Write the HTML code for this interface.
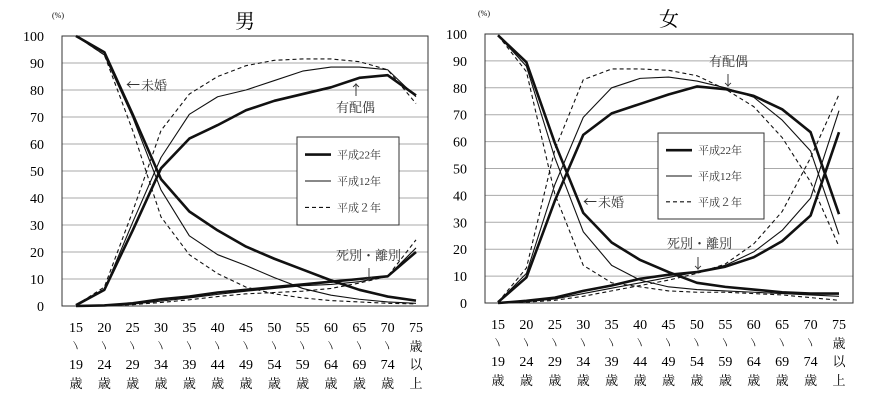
<!DOCTYPE html>
<html><head><meta charset="utf-8"><style>
body{margin:0;background:#fff}
svg{display:block;font-family:"Liberation Serif","Noto Serif CJK SC",serif}
.ar{font-family:"Noto Sans CJK JP",sans-serif}
</style></head><body>
<svg id="s" width="871" height="404" viewBox="0 0 871 404" xmlns="http://www.w3.org/2000/svg"></svg>
<script>
const NS="http://www.w3.org/2000/svg";const s=document.getElementById('s');
function el(t,a,txt){const e=document.createElementNS(NS,t);for(const k in a)e.setAttribute(k,a[k]);if(txt!==undefined)e.textContent=txt;s.appendChild(e);return e;}
const cats=['15','20','25','30','35','40','45','50','55','60','65','70','75'];
const lo=['19','24','29','34','39','44','49','54','59','64','69','74'];
function chart(c){
 const {L,R,T,B,x0,x1}=c;const Y=v=>B-(B-T)*v/100;const X=i=>x0+(x1-x0)*i/12;
 for(let v=10;v<=100;v+=10)el('line',{x1:L,x2:R,y1:Y(v),y2:Y(v),stroke:'#aaa','stroke-width':1});
 el('rect',{x:L,y:T,width:R-L,height:B-T,fill:'none',stroke:'#333','stroke-width':1});
 for(let v=0;v<=100;v+=10)el('text',{x:L-18,y:Y(v)+5,'text-anchor':'end','font-size':14},v);
 el('text',{x:c.px,y:T-18,'font-size':8},'(%)');
 el('text',{x:(L+R)/2,y:T-8,'font-size':20,'text-anchor':'middle'},c.title);
 for(let i=0;i<13;i++){const x=X(i);
  el('text',{x,y:B+26,'font-size':14,'text-anchor':'middle'},cats[i]);
  if(i<12){el('text',{x,y:B+43,'font-size':9,'text-anchor':'middle'},'〵');
   el('text',{x,y:B+63,'font-size':14,'text-anchor':'middle'},lo[i]);
   el('text',{x,y:B+82,'font-size':13,'text-anchor':'middle'},'歳');}
  else{el('text',{x,y:B+45,'font-size':13,'text-anchor':'middle'},'歳');
   el('text',{x,y:B+63,'font-size':13,'text-anchor':'middle'},'以');
   el('text',{x,y:B+82,'font-size':13,'text-anchor':'middle'},'上');}
 }
 const st=[{w:2.6,d:''},{w:1.1,d:''},{w:1.1,d:'4,3'}];
 c.data.forEach(grp=>grp.forEach((arr,k)=>{
  el('polyline',{points:arr.map((v,i)=>X(i)+','+Y(v)).join(' '),fill:'none',stroke:'#111','stroke-width':st[k].w,'stroke-dasharray':st[k].d,'stroke-linejoin':'round'});
 }));
 const g=c.leg;el('rect',{x:g[0],y:g[1],width:g[2],height:g[3],fill:'#fff',stroke:'#333'});
 ['平成22年','平成12年','平成２年'].forEach((t,k)=>{const yy=g[1]+g[3]*(0.2+0.3*k);
  el('line',{x1:g[0]+8,x2:g[0]+34,y1:yy,y2:yy,stroke:'#111','stroke-width':st[k].w,'stroke-dasharray':st[k].d});
  el('text',{x:g[0]+40,y:yy+4,'font-size':11,fill:'#333'},t);});
 c.notes.forEach(n=>el('text',{x:n[0],y:n[1],'font-size':n[3]||13,fill:'#333',class:n[3]?'ar':''},n[2]));
}
chart({L:62,R:428,T:36,B:306,x0:76,x1:416,title:'男',px:52,leg:[297,137,102,88],
 data:[[[100,94,71,47,35,28,22,17.5,13.5,9.5,6,3.5,2],[100,93,70,43,26,19,15,10.5,6.5,4,2.5,1.5,1],[100,93,65,33,19,12,7,4.5,3,2,1.5,1,0.8]],
 [[0.3,6,28,51,62,67,72.5,76,78.5,81,84.5,85.5,78],[0.3,6,31,55,71,77.5,80,83.5,87,88.5,88.5,87.5,77.5],[0.3,7,35,65,78.5,85,89,91,91.5,91.5,90.5,87.5,75]],
 [[0,0.2,1,2.5,3.5,5,6,7,8,9,10,11,20],[0,0.1,0.7,1.8,3,4.3,5.5,6.5,7.5,8,9,11,21.5],[0,0.1,0.5,1.3,2.3,3.5,4.5,5,5.5,6.5,8.5,11,24.5]]],
 notes:[[126,90,'←',14],[141,90,'未婚'],[349,95,'↑',14],[336,112,'有配偶'],[336,260,'死別・離別'],[362,280,'↓',14]]});
chart({L:485,R:853,T:34,B:303,x0:498,x1:839,title:'女',px:478,leg:[658,133,106,86],
 data:[[[99.5,89.5,59.5,33.5,22.5,16,11.5,7.5,6,5,4,3.5,3.5],[99.5,88,54,26.5,14,8.5,6,5,4.5,4,3.5,3,2.5],[99.5,86,40.5,14,7.5,6,4.5,4,4,3.5,3,2,1]],
 [[0.3,9.5,38,62.5,70.5,74,77.5,80.5,79.5,77,72,63.5,33],[0.3,11,44,69,80,83.5,84,82.5,80,76.5,68,56.5,25.5],[0.3,13,57,83,87,87,86.5,84.5,79.5,73,61.5,45,21]],
 [[0,0.8,2,4.5,6.5,9,10.5,11.5,13.5,17,23,32.5,63.5],[0,0.5,1.5,3.5,5.5,7.5,9.5,11.5,14,19,27,39,71.5],[0,0.3,1,2.5,4.5,6.5,8.5,11,14.5,22,34,54,77.5]]],
 notes:[[583,207,'←',14],[598,207,'未婚'],[709,66,'有配偶'],[721,86,'↓',14],[667,248,'死別・離別'],[691,269,'↓',14]]});
</script>
</body></html>
